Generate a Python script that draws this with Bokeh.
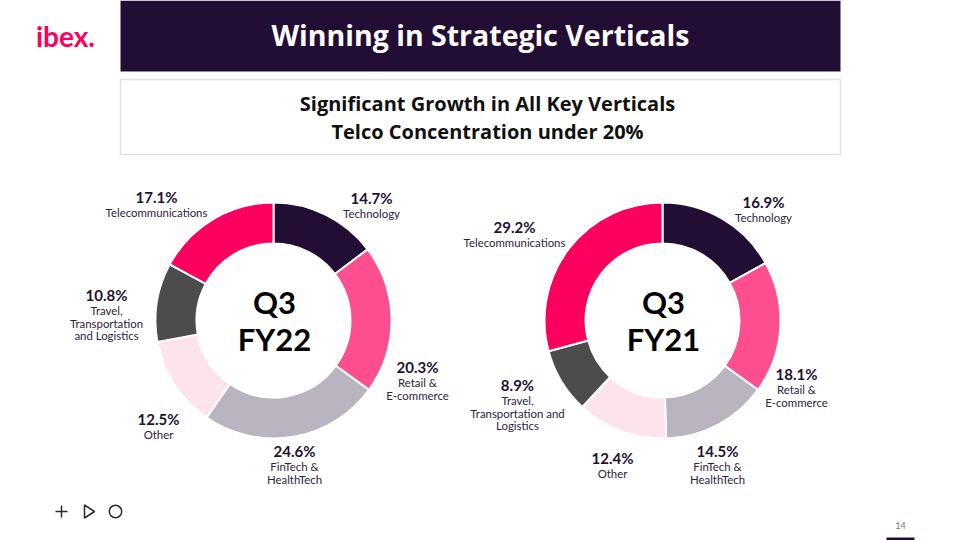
from bokeh.plotting import figure
from bokeh.models import Range1d
from bokeh.core.properties import value
from bokeh.embed import file_html
from bokeh.resources import INLINE
import numpy as np

# ---------------- data ----------------
categories = ["Technology", "Retail & E-commerce", "FinTech & HealthTech",
              "Other", "Travel, Transportation and Logistics", "Telecommunications"]
fy22_values = [14.7, 20.3, 24.6, 12.5, 10.8, 17.1]
fy21_values = [16.9, 18.1, 14.5, 12.4, 8.9, 29.2]
fy22_label_lines = [["Technology"], ["Retail &", "E-commerce"], ["FinTech &", "HealthTech"],
                    ["Other"], ["Travel,", "Transportation", "and Logistics"], ["Telecommunications"]]
fy21_label_lines = [["Technology"], ["Retail &", "E-commerce"], ["FinTech &", "HealthTech"],
                    ["Other"], ["Travel,", "Transportation and", "Logistics"], ["Telecommunications"]]
chart_titles = [["Q3", "FY22"], ["Q3", "FY21"]]
title = "Winning in Strategic Verticals"
subtitle = ["Significant Growth in All Key Verticals", "Telco Concentration under 20%"]

# ---------------- styles / layout ----------------
colors = ["#220e34", "#fd4e90", "#bab4c0", "#fde4ec", "#4c4c4c", "#fc005f"]
DARK = "#220e34"
PINK = "#fc005f"
FONT = "Lato"
HFONT = "Open Sans"

# label positions (reference pixel coords) for each slice's percent
fy22_label_pos = [(371, 197), (417, 366), (294, 450), (158, 418), (106, 294), (156, 196)]
fy21_label_pos = [(763, 201), (796, 373), (717, 450), (612, 457), (517, 384), (514, 226)]
centers = [(273, 320), (662, 320)]
R_OUT, R_IN = 118, 77

W, H = 960, 540
p = figure(width=W, height=H, output_backend="svg", toolbar_location=None,
           x_range=Range1d(0, 960), y_range=Range1d(0, 540),
           min_border=0, outline_line_color=None)
p.axis.visible = False
p.grid.visible = False
p.background_fill_color = "white"
p.border_fill_color = "white"


def Y(y):
    return 540 - y


# header banner
p.quad(left=120, right=840, top=Y(0), bottom=Y(71), fill_color=DARK, line_color=None)
p.text(x=[480], y=[Y(34)], text=[title], text_font=value(HFONT), text_font_style="bold",
       text_font_size="28.5px", text_color="white", text_align="center", text_baseline="middle")

# logo
p.text(x=[65], y=[Y(35)], text=["ibex."], text_font=value(FONT), text_font_style="bold",
       text_font_size="28px", text_color=PINK, text_align="center", text_baseline="middle")

# subtitle box
p.quad(left=120, right=840, top=Y(79), bottom=Y(154), fill_color="white",
       line_color="#e3e3e3", line_width=1.5)
p.text(x=[487, 487], y=[Y(103), Y(131)], text=subtitle, text_font=value(HFONT),
       text_font_style="bold", text_font_size="20px", text_color="#111111",
       text_align="center", text_baseline="middle")


def donut(vals, lines, pos, center, ctitle):
    v = np.array(vals, dtype=float)
    frac = v / v.sum()
    cum = np.concatenate([[0], np.cumsum(frac)])
    start = np.pi / 2 - 2 * np.pi * cum[1:]
    end = np.pi / 2 - 2 * np.pi * cum[:-1]
    cx, cy = center
    p.annular_wedge(x=[cx] * len(v), y=[Y(cy)] * len(v), inner_radius=R_IN, outer_radius=R_OUT,
                    start_angle=list(start), end_angle=list(end), direction="anticlock",
                    fill_color=colors, line_color="white", line_width=2)
    p.text(x=[cx + 1, cx + 1], y=[Y(cy - 19), Y(cy + 18.5)], text=ctitle, text_font=value(FONT),
           text_font_style="bold", text_font_size="31px", text_color="#000000",
           text_align="center", text_baseline="middle")
    for val, ls, (lx, ly) in zip(vals, lines, pos):
        p.text(x=[lx], y=[Y(ly)], text=[f"{val:.1f}%"], text_font=value(FONT),
               text_font_style="bold", text_font_size="15px", text_color="#231233",
               text_align="center", text_baseline="middle")
        ys = [Y(ly + 16 + 12.5 * i) for i in range(len(ls))]
        p.text(x=[lx] * len(ls), y=ys, text=ls, text_font=value(FONT),
               text_font_size="11.4px", text_color="#2e2240",
               text_align="center", text_baseline="middle")


donut(fy22_values, fy22_label_lines, fy22_label_pos, centers[0], chart_titles[0])
donut(fy21_values, fy21_label_lines, fy21_label_pos, centers[1], chart_titles[1])

# footer icons
ic = "#2a2a2a"
p.segment(x0=[55, 61], y0=[Y(511), Y(505)], x1=[67, 61], y1=[Y(511), Y(517)],
          line_color=ic, line_width=1.5)
p.patch(x=[84, 84, 94], y=[Y(504.5), Y(517.5), Y(511)], fill_color=None,
        line_color=ic, line_width=1.5)
p.circle(x=[115], y=[Y(511)], radius=6.2, fill_color=None, line_color=ic, line_width=1.5)

# page number and bar
p.text(x=[900], y=[Y(525)], text=["14"], text_font=value(FONT), text_font_size="9px",
       text_color="#777777", text_align="center", text_baseline="middle")
p.quad(left=886, right=914, top=Y(537), bottom=Y(540), fill_color=DARK, line_color=None)

open("out.html", "w").write(file_html(p, INLINE))
